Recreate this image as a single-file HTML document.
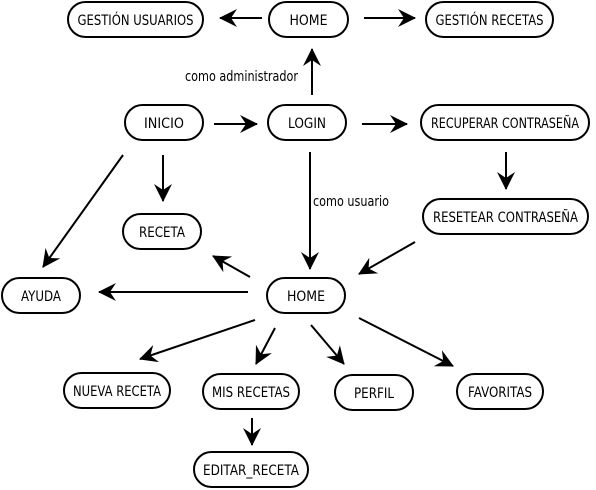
<!DOCTYPE html>
<html><head><meta charset="utf-8"><style>body{margin:0;background:#fff}svg{display:block}svg text{font-family:"DejaVu Sans","Liberation Sans",sans-serif;font-size:14px;fill:#000}</style></head><body>
<svg width="596" height="490" viewBox="0 0 596 490" xmlns="http://www.w3.org/2000/svg">
<defs>
<marker id="b" markerWidth="18" markerHeight="18" refX="17" refY="9" orient="auto" markerUnits="userSpaceOnUse" viewBox="0 0 18 18"><path d="M0,0 L18,9 L0,18 L6,9 z" fill="#000"/></marker></defs>
<g fill="#fff" stroke="#000" stroke-width="2">
<rect x="68" y="2" width="135" height="35" rx="17.5"/>
<rect x="269" y="2" width="79" height="35" rx="17.5"/>
<rect x="426" y="2" width="127" height="35" rx="17.5"/>
<rect x="125" y="105" width="78" height="35" rx="17.5"/>
<rect x="268" y="105" width="78" height="35" rx="17.5"/>
<rect x="421" y="105" width="168" height="35" rx="17.5"/>
<rect x="423" y="199" width="165" height="35" rx="17.5"/>
<rect x="123" y="214" width="78" height="35" rx="17.5"/>
<rect x="2" y="278" width="78" height="35" rx="17.5"/>
<rect x="267" y="278" width="78" height="35" rx="17.5"/>
<rect x="64" y="373" width="106" height="35" rx="17.5"/>
<rect x="203" y="374" width="96" height="35" rx="17.5"/>
<rect x="335" y="375" width="78" height="35" rx="17.5"/>
<rect x="457" y="374" width="86" height="35" rx="17.5"/>
<rect x="194" y="452" width="114" height="35" rx="17.5"/>
</g>
<g text-anchor="middle">
<text x="135.5" y="25" textLength="116" lengthAdjust="spacingAndGlyphs">GESTIÓN USUARIOS</text>
<text x="308.5" y="25" textLength="38" lengthAdjust="spacingAndGlyphs">HOME</text>
<text x="489.5" y="25" textLength="108" lengthAdjust="spacingAndGlyphs">GESTIÓN RECETAS</text>
<text x="164" y="128" textLength="40" lengthAdjust="spacingAndGlyphs">INICIO</text>
<text x="307" y="128" textLength="38" lengthAdjust="spacingAndGlyphs">LOGIN</text>
<text x="505" y="128" textLength="148" lengthAdjust="spacingAndGlyphs">RECUPERAR CONTRASEÑA</text>
<text x="505.5" y="222" textLength="145" lengthAdjust="spacingAndGlyphs">RESETEAR CONTRASEÑA</text>
<text x="162" y="237" textLength="46" lengthAdjust="spacingAndGlyphs">RECETA</text>
<text x="41" y="301" textLength="40" lengthAdjust="spacingAndGlyphs">AYUDA</text>
<text x="306" y="301" textLength="38" lengthAdjust="spacingAndGlyphs">HOME</text>
<text x="117" y="396" textLength="88" lengthAdjust="spacingAndGlyphs">NUEVA RECETA</text>
<text x="251" y="397" textLength="78" lengthAdjust="spacingAndGlyphs">MIS RECETAS</text>
<text x="374" y="398" textLength="40" lengthAdjust="spacingAndGlyphs">PERFIL</text>
<text x="500" y="397" textLength="64" lengthAdjust="spacingAndGlyphs">FAVORITAS</text>
<text x="251" y="475" textLength="96" lengthAdjust="spacingAndGlyphs">EDITAR_RECETA</text>
</g>
<text x="185" y="81" textLength="113" lengthAdjust="spacingAndGlyphs">como administrador</text>
<text x="313" y="206" textLength="76" lengthAdjust="spacingAndGlyphs">como usuario</text>
<g stroke="#000" stroke-width="2" marker-end="url(#b)">
<line x1="262" y1="18" x2="220" y2="18"/>
<line x1="364" y1="18" x2="415" y2="18"/>
<line x1="312" y1="95" x2="312" y2="49"/>
<line x1="214" y1="124" x2="257" y2="124"/>
<line x1="362" y1="124" x2="407" y2="124"/>
<line x1="506" y1="152" x2="506" y2="189"/>
<line x1="415" y1="242" x2="359" y2="274"/>
<line x1="310" y1="152" x2="310" y2="269"/>
<line x1="163" y1="155" x2="163" y2="201"/>
<line x1="123" y1="155" x2="43" y2="267"/>
<line x1="250" y1="277" x2="213" y2="256"/>
<line x1="248" y1="292" x2="99" y2="292"/>
<line x1="255" y1="320" x2="140" y2="359"/>
<line x1="275" y1="328" x2="256" y2="364"/>
<line x1="311" y1="325" x2="344" y2="364"/>
<line x1="359" y1="318" x2="453" y2="366"/>
<line x1="252" y1="418" x2="252" y2="445"/>
</g>
</svg>
</body></html>
